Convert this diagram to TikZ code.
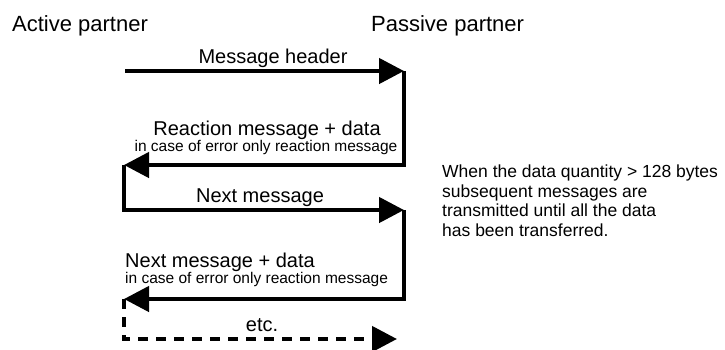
\documentclass[tikz,border=0pt]{standalone}
\usepackage{fontspec}
\setmainfont{Liberation Sans}
\usetikzlibrary{arrows.meta}
\begin{document}
\begin{tikzpicture}[x=1pt,y=-1pt,
  flow/.style={line width=4.5pt, line join=miter, -{Triangle[length=25pt,width=25pt]}},
  flowdash/.style={flow, dash pattern=on 10pt off 8pt},
  party/.style={inner sep=0pt, anchor=base west, font=\fontsize{22}{26}\selectfont},
  msg/.style={inner sep=0pt, font=\fontsize{20}{24}\selectfont},
  small/.style={inner sep=0pt, font=\fontsize{15.5}{18}\selectfont},
  note/.style={inner sep=0pt, anchor=north west, align=left, font=\fontsize{17.5}{19.5}\selectfont}]
\useasboundingbox (0,0) rectangle (725,349);
\coordinate (s) at (125,71);
\coordinate (r1) at (404,71);
\coordinate (r2) at (404,165);
\coordinate (l2) at (124,165);
\coordinate (l3) at (124,210);
\coordinate (r3) at (404,210);
\coordinate (r4) at (404,299);
\coordinate (l4) at (124,299);
\coordinate (l5) at (124,339);
\coordinate (r5) at (397,339);
\draw[flow] (s) -- (r1);
\draw[flow] (r1) -- (r2) -- (l2);
\draw[flow] (l2) -- (l3) -- (r3);
\draw[flow] (r3) -- (r4) -- (l4);
\draw[flowdash] (l4) -- (l5) -- (r5);
\node[party] (act) at (12,31) {Active partner};
\node[party] (pas) at (371,31) {Passive partner};
\node[msg, anchor=base] (m1) at (273,63) {Message header};
\node[msg, anchor=base] (m2) at (267,135) {Reaction message + data};
\node[small, anchor=base] (m2s) at (266,151) {in case of error only reaction message};
\node[msg, anchor=base] (m3) at (260,202) {Next message};
\node[msg, anchor=base west] (m4) at (125,267) {Next message + data};
\node[small, anchor=base west] (m4s) at (125,283) {in case of error only reaction message};
\node[msg, anchor=base] (m5) at (262,331) {etc.};
\node[note] (nt) at (442,165) {When the data quantity > 128 bytes\\subsequent messages are\\transmitted until all the data\\has been transferred.};
\end{tikzpicture}
\end{document}
